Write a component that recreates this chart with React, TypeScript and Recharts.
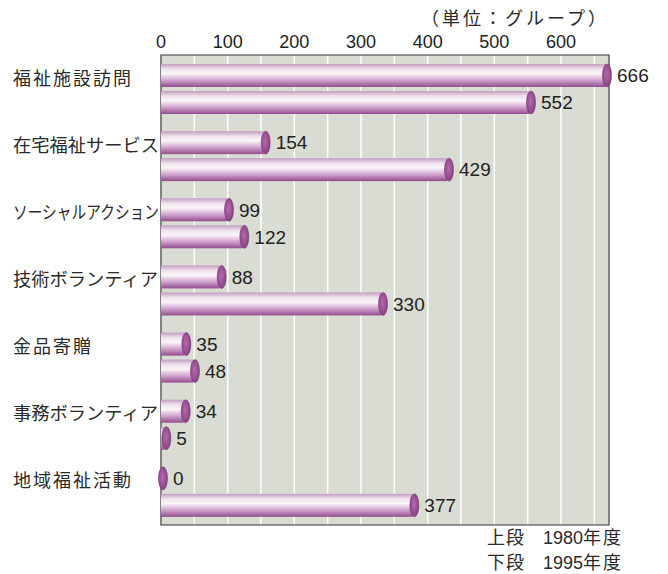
import React from "react";
import {
  BarChart,
  Bar,
  XAxis,
  YAxis,
  CartesianGrid,
  ReferenceArea,
  LabelList,
} from "recharts";

// 活動内容（上段 1980年度 / 下段 1995年度）
const categories = [
  "福祉施設訪問",
  "在宅福祉サービス",
  "ソーシャルアクション",
  "技術ボランティア",
  "金品寄贈",
  "事務ボランティア",
  "地域福祉活動",
];
const groups1980 = [666, 154, 99, 88, 35, 34, 0];
const groups1995 = [552, 429, 122, 330, 48, 5, 377];

// grid every 50, labels every 100
const gridTicks = [0, 50, 100, 150, 200, 250, 300, 350, 400, 450, 500, 550, 600, 650];
const labelTicks = [0, 100, 200, 300, 400, 500, 600];
const X_MAX = 672;

const unitLabel = "（単位：グループ）";
const legendRows = [
  { pos: "上段", year: "1980", suffix: "年度" },
  { pos: "下段", year: "1995", suffix: "年度" },
];

const data = categories.map((name, i) => ({
  name,
  y1980: groups1980[i],
  y1995: groups1995[i],
}));

const NUM_FONT = '"Liberation Sans", Arial, sans-serif';
const JP_FONT = '"Noto Sans CJK JP", "Noto Sans", sans-serif';

const isKana = (c: string) => /[\u30a0-\u30ff]/.test(c);

// cylinder-like bar with a dark end cap
const TubeBar = (props: any) => {
  const { x, y, width, height } = props;
  const w = Math.max(width || 0, 0);
  return (
    <g>
      {w > 0 && <rect x={x} y={y} width={w} height={height} fill="url(#tubeBody)" />}
      <ellipse
        cx={x + w + 2}
        cy={y + height / 2}
        rx={4.5}
        ry={height / 2}
        fill="url(#tubeCap)"
        stroke="#7a3676"
        strokeWidth={0.6}
      />
    </g>
  );
};

const CategoryTick = (props: any) => {
  const { y, payload } = props;
  const label: string = payload.value;
  const chars = Array.from(label);
  const kana = chars.filter(isKana).length;
  const kanji = chars.length - kana;
  // the printed katakana are narrow, so squeeze labels that contain them
  const squeeze = kana > 0 ? { textLength: Math.min(146, kanji * 20 + kana * 17.5), lengthAdjust: "spacingAndGlyphs" } : {};
  return (
    <text
      x={13}
      y={y - 12}
      dominantBaseline="central"
      textAnchor="start"
      fontSize={18}
      fill="#2a2a2a"
      style={{ fontFamily: JP_FONT, letterSpacing: kana > 0 ? 0 : 2 }}
      {...(squeeze as any)}
    >
      {label}
    </text>
  );
};

export default function App() {
  return (
    <div style={{ position: "absolute", left: 0, top: 0, width: 668, height: 574, background: "#fff" }}>
      <BarChart
        width={668}
        height={574}
        data={data}
        layout="vertical"
        margin={{ top: 20, right: 59, bottom: 49, left: 0 }}
        barSize={23}
        barGap={4}
      >
        <defs>
          <linearGradient id="tubeBody" x1="0" y1="0" x2="0" y2="1">
            <stop offset="0%" stopColor="#c59cc2" />
            <stop offset="22%" stopColor="#eee2ec" />
            <stop offset="42%" stopColor="#faf6f9" />
            <stop offset="70%" stopColor="#d2a5cf" />
            <stop offset="100%" stopColor="#924c8f" />
          </linearGradient>
          <radialGradient id="tubeCap" cx="45%" cy="45%" r="60%">
            <stop offset="0%" stopColor="#b56bae" />
            <stop offset="100%" stopColor="#843f80" />
          </radialGradient>
        </defs>
        <CartesianGrid horizontal={false} vertical stroke="#ffffff" strokeWidth={1.5} fill="#d9dcd3" />
        <XAxis
          type="number"
          orientation="top"
          domain={[0, X_MAX]}
          ticks={gridTicks}
          interval={0}
          height={35}
          tickFormatter={(v: number) => (labelTicks.includes(v) ? String(v) : "")}
          axisLine={false}
          tickLine={false}
          tickMargin={1}
          tick={{ fontSize: 18, fill: "#222", fontFamily: NUM_FONT }}
        />
        <YAxis
          type="category"
          dataKey="name"
          width={161}
          axisLine={false}
          tickLine={false}
          tick={<CategoryTick />}
          interval={0}
        />
        <ReferenceArea x1={0} x2={X_MAX} fill="none" stroke="#333" strokeWidth={1.2} ifOverflow="visible" />
        <Bar dataKey="y1980" shape={<TubeBar />} isAnimationActive={false}>
          <LabelList
            dataKey="y1980"
            position="right"
            offset={12}
            fill="#222"
            fontSize={19}
            fontFamily={NUM_FONT}
          />
        </Bar>
        <Bar dataKey="y1995" shape={<TubeBar />} isAnimationActive={false}>
          <LabelList
            dataKey="y1995"
            position="right"
            offset={12}
            fill="#222"
            fontSize={19}
            fontFamily={NUM_FONT}
          />
        </Bar>
      </BarChart>
      <div
        style={{
          position: "absolute",
          left: 421,
          top: 5,
          fontFamily: JP_FONT,
          fontSize: 18,
          color: "#2a2a2a",
          letterSpacing: 3,
          whiteSpace: "nowrap",
          lineHeight: "24px",
        }}
      >
        {unitLabel}
      </div>
      <div
        style={{
          position: "absolute",
          left: 487,
          top: 525,
          fontFamily: JP_FONT,
          fontSize: 18,
          color: "#2a2a2a",
          lineHeight: "23px",
          whiteSpace: "nowrap",
        }}
      >
        {legendRows.map((r) => (
          <div key={r.pos}>
            <span style={{ letterSpacing: 1 }}>{r.pos}</span>
            <span style={{ marginLeft: 18, fontFamily: NUM_FONT }}>{r.year}</span>
            <span style={{ letterSpacing: 2 }}>{r.suffix}</span>
          </div>
        ))}
      </div>
    </div>
  );
}
